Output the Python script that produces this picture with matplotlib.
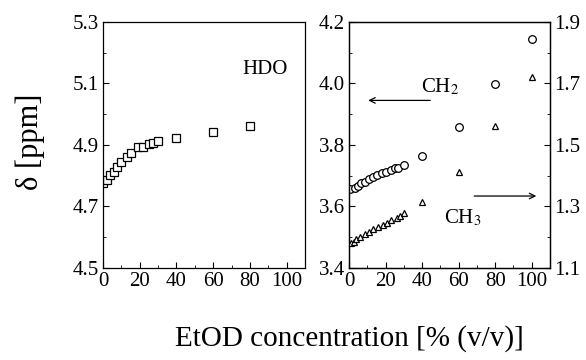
import matplotlib
matplotlib.use("Agg")
import matplotlib.pyplot as plt
from matplotlib.ticker import MultipleLocator

plt.rcParams['font.family'] = ['Liberation Serif', 'DejaVu Serif']
plt.rcParams['mathtext.fontset'] = 'stix'

# HDO shift (left panel)
hdo_x = [0, 2, 4, 6, 7.5, 10, 13, 15, 19, 22, 25, 27, 30, 40, 60, 80]
hdo_y = [4.775, 4.786, 4.802, 4.813, 4.829, 4.846, 4.862, 4.873, 4.892, 4.895,
         4.903, 4.905, 4.913, 4.922, 4.943, 4.962]

# CH2 shift (right panel, left axis)
ch2_x = [0.5, 3, 5, 6.5, 9, 11, 13, 15.5, 18, 20.5, 23, 25, 27, 30, 40, 60, 80, 100]
ch2_y = [3.656, 3.661, 3.667, 3.675, 3.681, 3.688, 3.697, 3.702, 3.708, 3.713,
         3.719, 3.724, 3.726, 3.735, 3.765, 3.857, 3.998, 4.146]

# CH3 shift (right panel, right axis)
ch3_x = [1, 2.5, 4, 6, 8.5, 11, 13, 16, 18.5, 21, 23, 26, 28, 30, 40, 60, 80, 100]
ch3_y = [1.180, 1.186, 1.193, 1.200, 1.209, 1.218, 1.227, 1.234, 1.240, 1.247,
         1.256, 1.264, 1.269, 1.278, 1.316, 1.413, 1.562, 1.720]

xticks = [0, 20, 40, 60, 80, 100]
hdo_ticks = [4.5, 4.7, 4.9, 5.1, 5.3]
ch2_ticks = [3.4, 3.6, 3.8, 4.0, 4.2]
ch3_ticks = [1.1, 1.3, 1.5, 1.7, 1.9]

fig = plt.figure(figsize=(5.86, 3.6), dpi=100)
ax1 = fig.add_axes([0.1758, 0.2556, 0.3447, 0.6833])
ax2 = fig.add_axes([0.5956, 0.2556, 0.343, 0.6833])
ax3 = ax2.twinx()

ax1.plot(hdo_x, hdo_y, 's', mfc='white', mec='black', ms=5.5, mew=0.9)
ax2.plot(ch2_x, ch2_y, 'o', mfc='white', mec='black', ms=5.5, mew=0.9)
ax3.plot(ch3_x, ch3_y, '^', mfc='white', mec='black', ms=4.5, mew=0.9)

ax1.set_xlim(0, 110)
ax1.set_ylim(4.5, 5.3)
ax2.set_xlim(0, 110)
ax2.set_ylim(3.4, 4.2)
ax3.set_ylim(1.1, 1.9)

for ax in (ax1, ax2):
    ax.set_xticks(xticks)
    ax.xaxis.set_minor_locator(MultipleLocator(10))
for ax, t in ((ax1, hdo_ticks), (ax2, ch2_ticks), (ax3, ch3_ticks)):
    ax.set_yticks(t)
    ax.set_yticks([(a + b) / 2 for a, b in zip(t[:-1], t[1:])], minor=True)
    ax.yaxis.set_major_formatter(plt.FormatStrFormatter('%.1f'))

for ax in (ax1, ax2, ax3):
    ax.tick_params(which='both', direction='in', labelsize=15, pad=3)
    ax.tick_params(which='major', length=4)
    ax.tick_params(which='minor', length=2)
    for s in ax.spines.values():
        s.set_linewidth(0.9)

ax1.text(88, 5.145, 'HDO', fontsize=15, ha='center', va='center')
ax2.text(50, 3.99, r'CH$_2$', fontsize=15, ha='center', va='center')
ax2.annotate('', xy=(9, 3.945), xytext=(46, 3.945),
             arrowprops=dict(arrowstyle='->', lw=0.9, color='black'))
ax3.text(62, 1.262, r'CH$_3$', fontsize=15, ha='center', va='center')
ax3.annotate('', xy=(104, 1.334), xytext=(67, 1.334),
             arrowprops=dict(arrowstyle='->', lw=0.9, color='black'))

fig.text(0.052, 0.605, 'δ [ppm]', fontsize=22, rotation=90, ha='center', va='center')
fig.text(0.597, 0.06, 'EtOD concentration [% (v/v)]', fontsize=21, ha='center', va='center')

fig.savefig('out.png', dpi=100)
